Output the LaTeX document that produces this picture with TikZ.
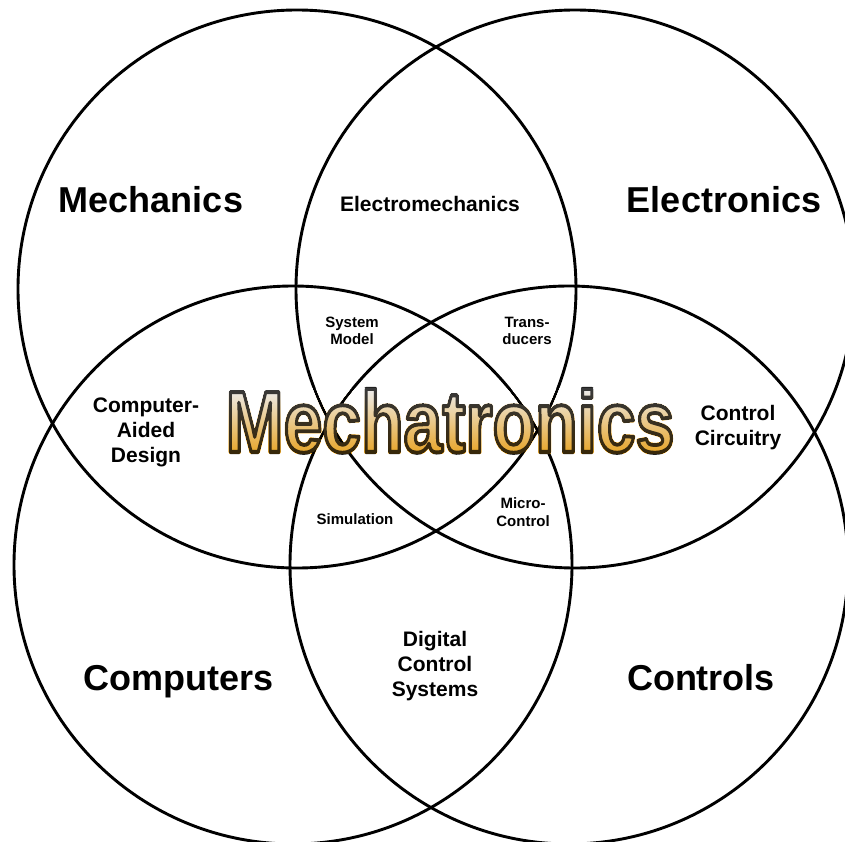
\documentclass[tikz,border=0pt]{standalone}
\usepackage{fontspec}
\setmainfont{Liberation Sans}
\usepackage{tikz}

\definecolor{mechtop}{RGB}{236,236,236}
\definecolor{mechmid}{RGB}{242,212,145}
\definecolor{mechbot}{RGB}{230,164,40}
\definecolor{mechcore}{gray}{0.5}

\newcommand{\rimtext}[1]{\special{pdf:literal direct 2 Tr 4 w 1 j 0.12 0.12 0.12 RG}#1}

\tikzset{
  ring/.style={line width=2.9pt},
  bigfield/.style={font=\fontsize{36}{43}\selectfont\bfseries},
  pairfield/.style={font=\fontsize{21}{25}\selectfont\bfseries, align=center},
  triplefield/.style={font=\fontsize{15}{17.5}\selectfont\bfseries, align=center},
  mechtext/.style={font=\fontsize{87}{100}\selectfont\bfseries, xscale=0.8, inner sep=0pt}
}

\begin{document}
\begin{tikzpicture}[x=1pt, y=-1pt]
    \clip (0,0) rectangle (845,842);
    \fill[white] (0,0) rectangle (845,842);

    \coordinate (mc) at (297,289);
    \coordinate (ec) at (575,289);
    \coordinate (cc) at (293,565);
    \coordinate (tc) at (569,565);
    \draw[ring] (mc) circle (279);
    \draw[ring] (ec) circle (279);
    \draw[ring] (cc) circle (279);
    \draw[ring] (tc) circle (279);

    \node[bigfield, anchor=base] (mechanics) at (151,213) {Mechanics};
    \node[bigfield, anchor=base] (electronics) at (724,213) {Electronics};
    \node[bigfield, anchor=base] (computers) at (179,690) {Computers};
    \node[bigfield, anchor=base] (controls) at (701,690) {Controls};

    \node[pairfield, anchor=base] (emech) at (430,212) {Electromechanics};
    \node[pairfield] (cad) at (146,432) {Computer-\\Aided\\Design};
    \node[pairfield] (circuit) at (738,428) {Control\\Circuitry};
    \node[pairfield] (digital) at (435,666) {Digital\\Control\\Systems};

    \node[triplefield] (sysmodel) at (352,331) {System\\Model};
    \node[triplefield] (transd) at (527,331) {Trans-\\ducers};
    \node[triplefield] (simul) at (355,519) {Simulation};
    \node[triplefield] (micro) at (523,512) {Micro-\\Control};

    \coordinate (mech) at (450,452);
    \node[mechtext, anchor=base, text=mechcore] (mechatronics) at (mech) {\rimtext{Mechatronics}};
    \path[blend mode=overlay, top color=mechtop, middle color=mechmid, bottom color=mechbot]
      (mechatronics.north west) rectangle (mechatronics.south east);
\end{tikzpicture}
\end{document}
